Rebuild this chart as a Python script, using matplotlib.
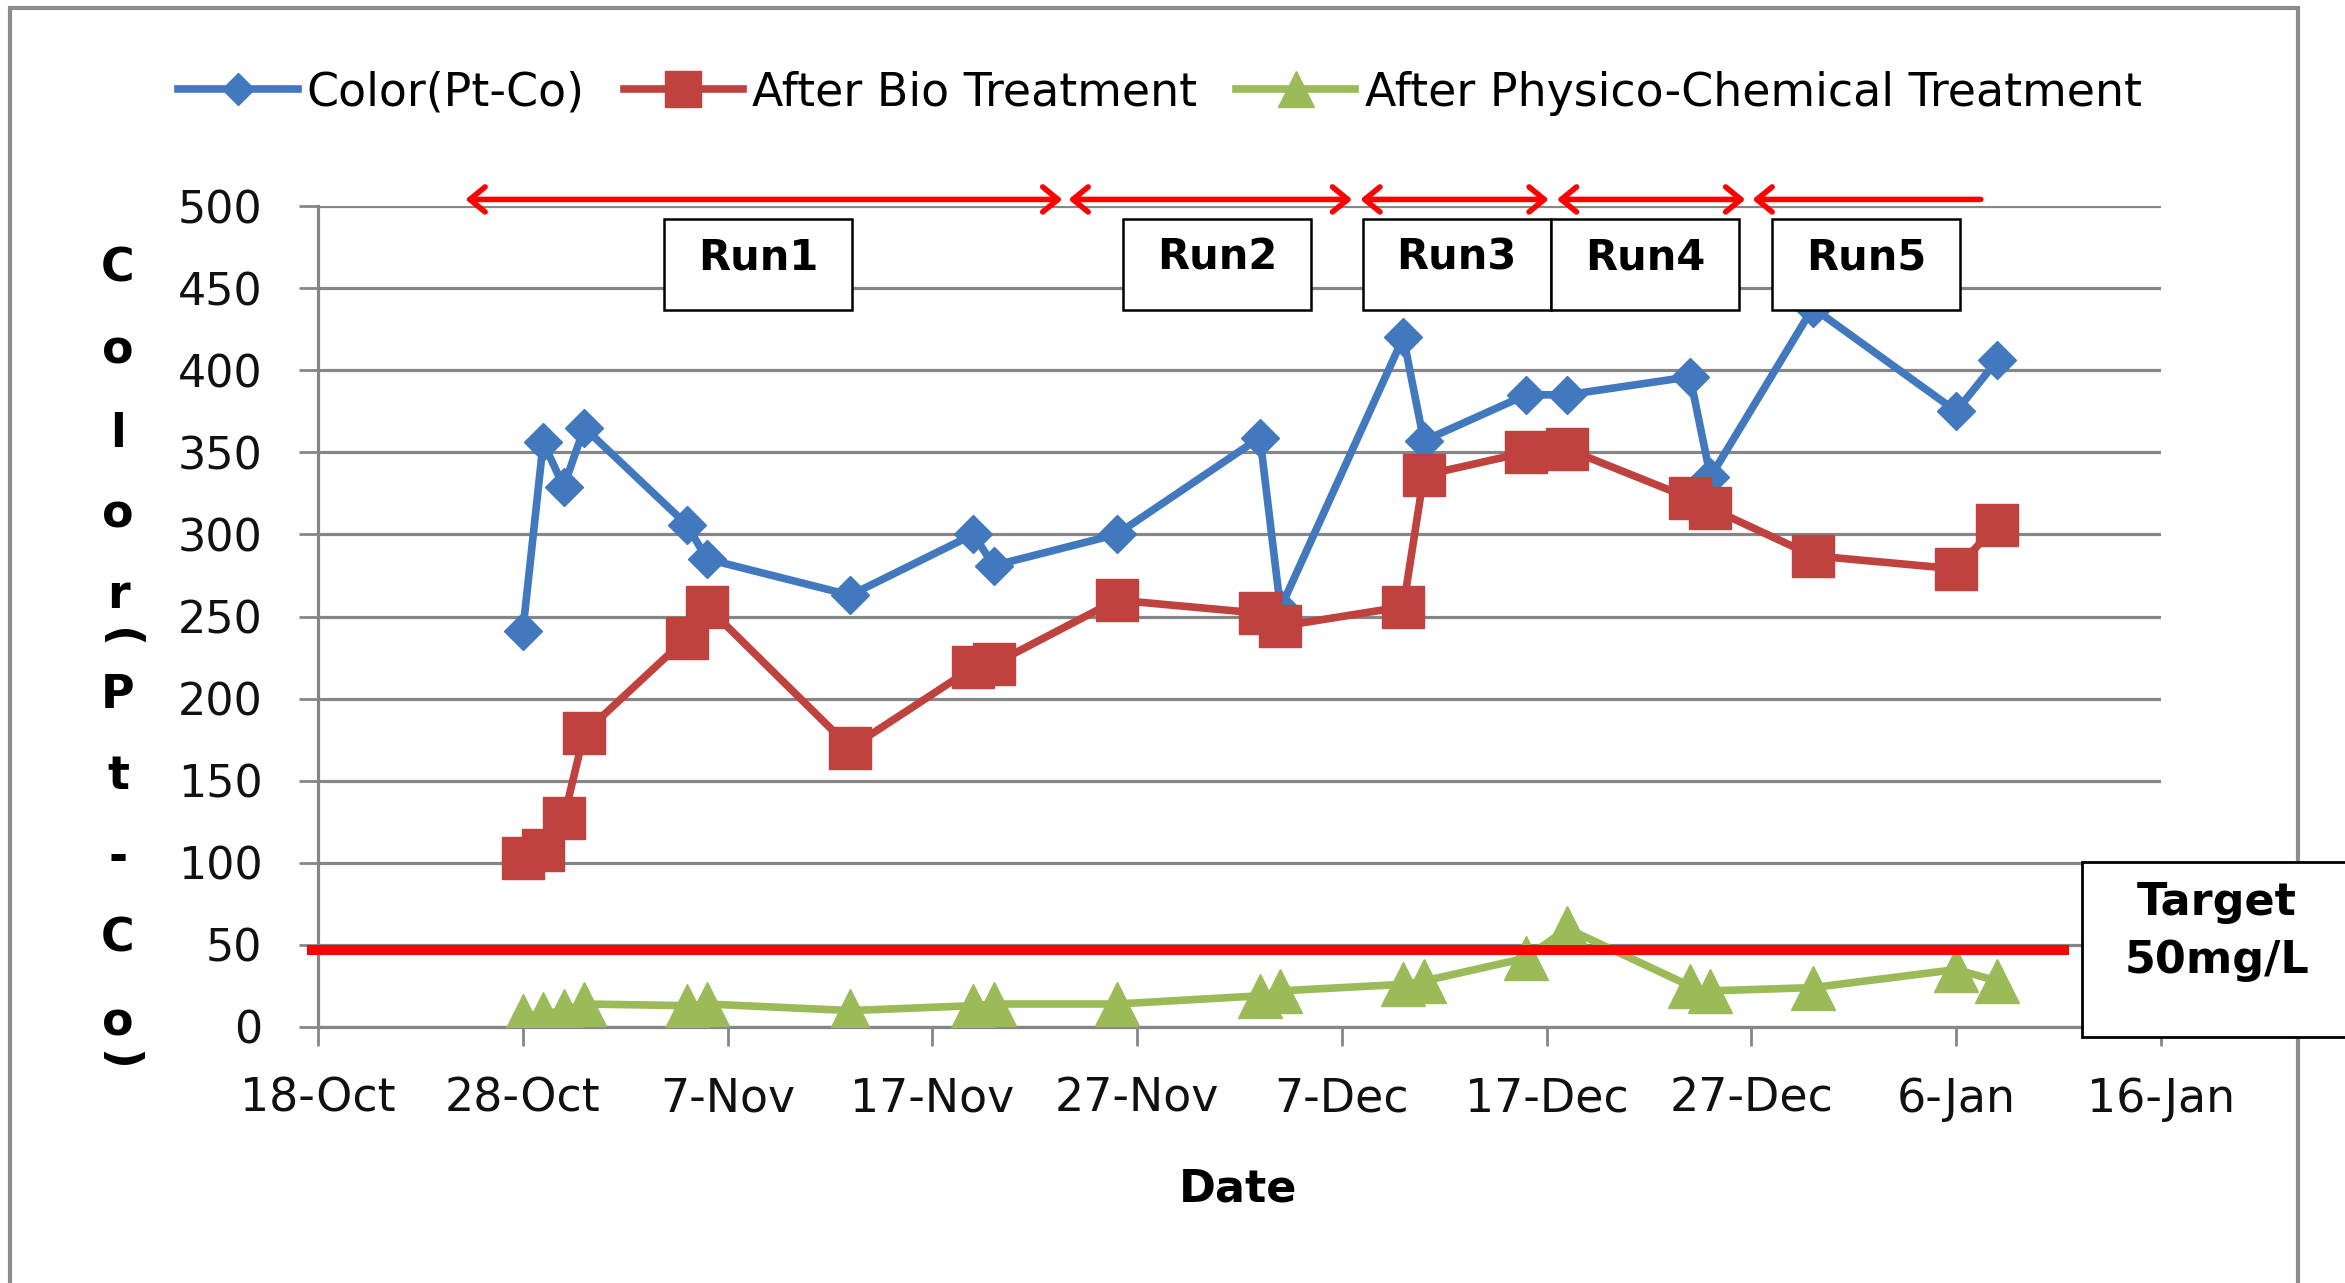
import matplotlib
matplotlib.use('Agg')
import matplotlib.pyplot as plt
import matplotlib.dates as mdates
from matplotlib.patches import Rectangle
import datetime as dt

# ---------------- data ----------------
dates = ['2012-10-28', '2012-10-29', '2012-10-30', '2012-10-31', '2012-11-05',
         '2012-11-06', '2012-11-13', '2012-11-19', '2012-11-20', '2012-11-26',
         '2012-12-03', '2012-12-04', '2012-12-10', '2012-12-11', '2012-12-16',
         '2012-12-18', '2012-12-24', '2012-12-25', '2012-12-30', '2013-01-06',
         '2013-01-08']
color_ptco = [241, 356, 329, 365, 306, 285, 263, 300, 281, 300,
              359, 255, 420, 357, 385, 385, 396, 335, 438, 375, 406]
after_bio = [103, 108, 127, 179, 237, 256, 170, 219, 221, 260,
             252, 244, 256, 336, 350, 352, 322, 316, 287, 279, 306]
after_physchem = [7, 8, 10, 14, 13, 14, 10, 13, 14, 14,
                  19, 22, 26, 28, 42, 60, 25, 22, 24, 35, 28]
series_labels = ['Color(Pt-Co)', 'After Bio Treatment', 'After Physico-Chemical Treatment']
x_tick_dates = ['2012-10-18', '2012-10-28', '2012-11-07', '2012-11-17', '2012-11-27',
                '2012-12-07', '2012-12-17', '2012-12-27', '2013-01-06', '2013-01-16']
x_tick_labels = ['18-Oct', '28-Oct', '7-Nov', '17-Nov', '27-Nov',
                 '7-Dec', '17-Dec', '27-Dec', '6-Jan', '16-Jan']
y_ticks = [0, 50, 100, 150, 200, 250, 300, 350, 400, 450, 500]
target_value = 47
run_labels = ['Run1', 'Run2', 'Run3', 'Run4', 'Run5']
# run arrow spans (days after 18-Oct) and box centres
run_start = [7.2, 36.65, 50.9, 60.5, 70.05]
run_end = [36.35, 50.5, 60.1, 69.7, 81.2]
run_box_center = [21.5, 43.9, 55.6, 64.8, 75.6]

# ---------------- figure ----------------
W, H = 2345, 1283
fig = plt.figure(figsize=(W / 100, H / 100), dpi=100)
fig.patch.set_facecolor('white')

def fx(x):
    return x / W

def fy(y):
    return 1 - y / H

ax = fig.add_axes([fx(318), fy(1027), (2161 - 318) / W, (1027 - 206) / H])

to_num = lambda s: mdates.date2num(dt.datetime.strptime(s, '%Y-%m-%d'))
x = [to_num(d) for d in dates]
x0 = to_num(x_tick_dates[0])

grey = '#868686'
blue = '#4178BE'
red = '#C0423F'
green = '#9BBB59'

ax.plot(x, color_ptco, color=blue, lw=5.5, marker='D', ms=19, mec=blue, mfc=blue,
        label=series_labels[0], zorder=3)
ax.plot(x, after_bio, color=red, lw=5.5, marker='s', ms=30, mec=red, mfc=red,
        label=series_labels[1], zorder=4)
ax.plot(x, after_physchem, color=green, lw=5.5, marker='^', ms=31, mec=green, mfc=green,
        label=series_labels[2], zorder=5)

# target line
ax.plot([x0 - 0.55, x0 + 85.5], [target_value, target_value], color='red', lw=7.2,
        clip_on=False, zorder=6, solid_capstyle='butt')

ax.set_xlim(x0, to_num(x_tick_dates[-1]))
ax.set_ylim(0, 500)
ax.set_xticks([to_num(d) for d in x_tick_dates])
ax.set_xticklabels(x_tick_labels)
ax.set_yticks(y_ticks)
ax.set_yticklabels([str(v) for v in y_ticks])

ax.yaxis.grid(True, color=grey, lw=2.3)
ax.set_axisbelow(True)
for s in ['top', 'right']:
    ax.spines[s].set_visible(False)
for s in ['left', 'bottom']:
    ax.spines[s].set_color(grey)
    ax.spines[s].set_linewidth(2.3)
ax.tick_params(axis='y', direction='out', length=14, width=2, color=grey,
               labelsize=32, pad=26, labelcolor='#111111')
ax.tick_params(axis='x', direction='out', length=14, width=2, color=grey,
               labelsize=33, pad=22, labelcolor='#111111')

# run arrows
for i in range(len(run_labels)):
    style = '<->,head_length=1.1,head_width=0.9' if i < 4 else '<-,head_length=1.1,head_width=0.9'
    ax.annotate('', xy=(x0 + run_end[i], 504), xytext=(x0 + run_start[i], 504),
                arrowprops=dict(arrowstyle=style, color='red', lw=4, shrinkA=0, shrinkB=0),
                annotation_clip=False, zorder=7)

# run boxes (pixel layout)
px_per_day = (2161 - 318) / 90
for i, lab in enumerate(run_labels):
    cx = 318 + run_box_center[i] * px_per_day
    bx0, bx1, by0, by1 = cx - 94, cx + 94, 219, 310
    fig.add_artist(Rectangle((fx(bx0), fy(by1)), (bx1 - bx0) / W, (by1 - by0) / H,
                             transform=fig.transFigure, facecolor='white',
                             edgecolor='black', lw=1.8, zorder=10))
    fig.text(fx(cx), fy(257), lab, ha='center', va='center', fontsize=30,
             fontweight='bold', zorder=11)

# target box
fig.add_artist(Rectangle((fx(2082), fy(1037)), (2400 - 2082) / W, (1037 - 862) / H,
                         transform=fig.transFigure, facecolor='white',
                         edgecolor='black', lw=2, zorder=10, clip_on=False))
fig.text(fx(2217), fy(902), 'Target', ha='center', va='center', fontsize=32,
         fontweight='bold', zorder=11)
fig.text(fx(2217), fy(960), '50mg/L', ha='center', va='center', fontsize=32,
         fontweight='bold', zorder=11)

# outer border
fig.add_artist(Rectangle((fx(10), fy(1400)), (2298 - 10) / W, (1400 - 8) / H,
                         transform=fig.transFigure, fill=False, edgecolor='#8C8C8C',
                         lw=3, zorder=0, clip_on=False))

# legend
fig.legend(loc='center', bbox_to_anchor=(fx(1160), fy(93)), ncol=3, frameon=False,
           fontsize=33, handlelength=2.6, handletextpad=0.2, columnspacing=0.85,
           markerscale=0.85)

# vertical y-axis label (stacked characters)
label_chars = list('Color(Pt-Co)')
label_y = [282, 364, 447, 527, 608, 638, 708, 789, 871, 952, 1036, 1060]
for ch, yy in zip(label_chars, label_y):
    if ch in '()':
        fig.text(fx(118), fy(yy), ch, ha='center', va='center', rotation=-90,
                 rotation_mode='anchor', fontsize=33, fontweight='bold')
    else:
        fig.text(fx(118), fy(yy), ch, ha='center', va='baseline',
                 fontsize=33, fontweight='bold')

fig.text(fx(1238), fy(1201), 'Date', ha='center', va='baseline', fontsize=32,
         fontweight='bold')

fig.savefig('out.png', dpi=100, facecolor='white')
